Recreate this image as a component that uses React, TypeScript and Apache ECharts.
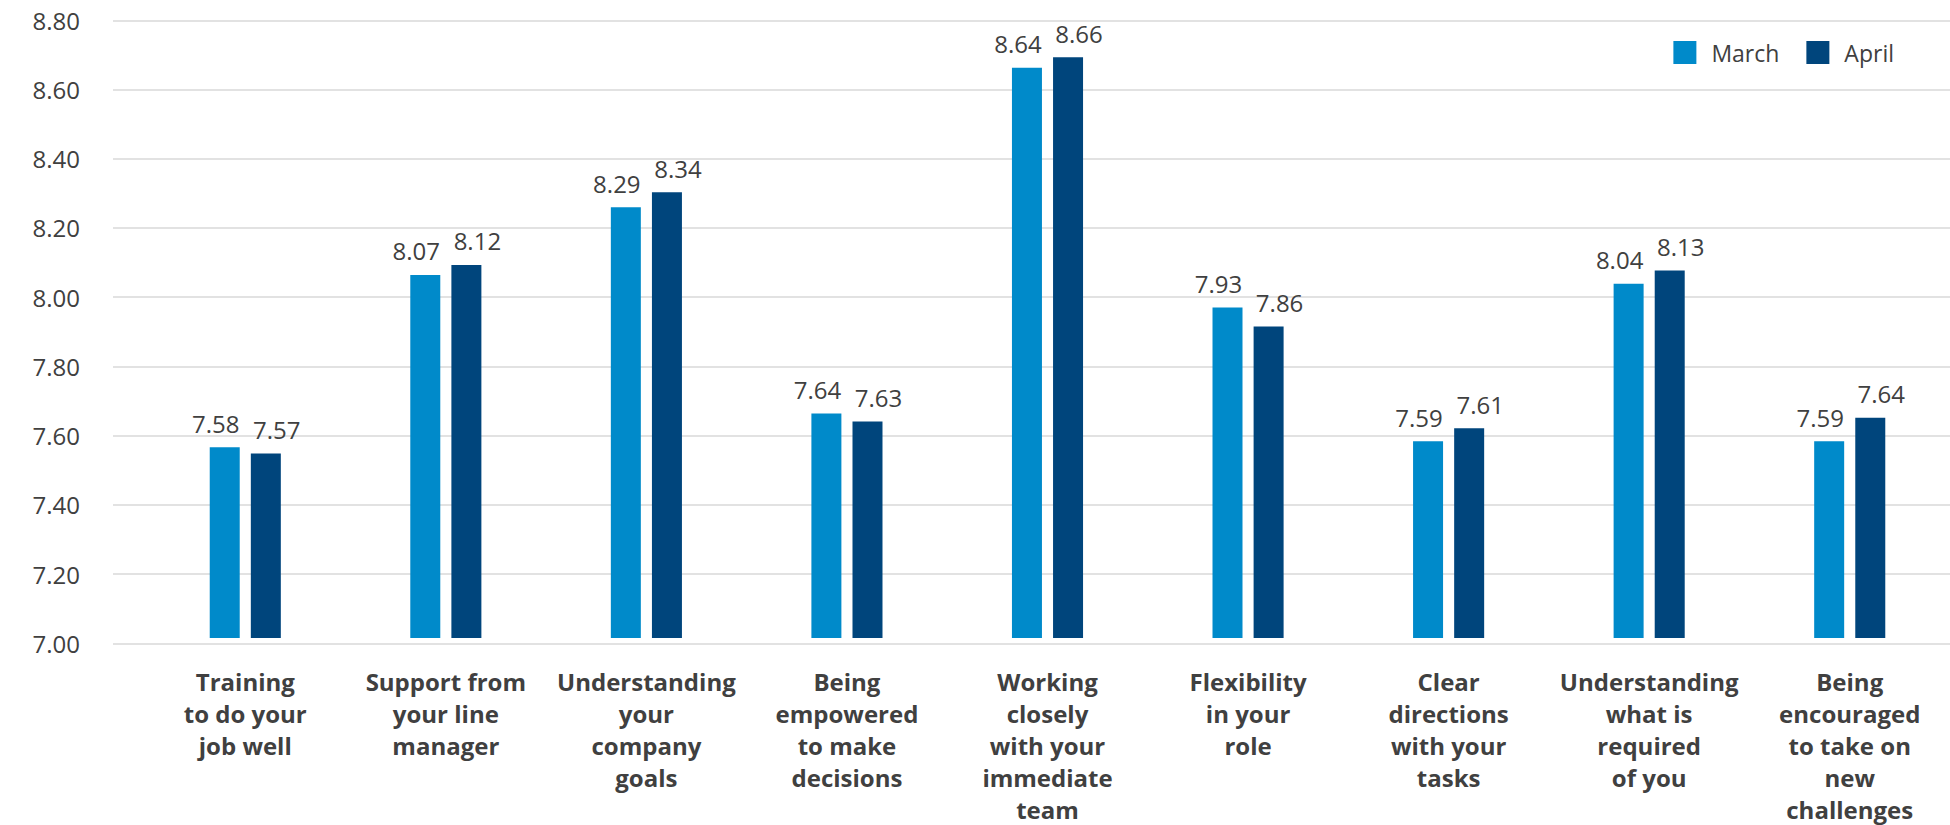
import React, { useEffect, useRef } from "react";
import * as echarts from "echarts";

const categories = [
  "Training\nto do your\njob well",
  "Support from\nyour line\nmanager",
  "Understanding\nyour\ncompany\ngoals",
  "Being\nempowered\nto make\ndecisions",
  "Working\nclosely\nwith your\nimmediate\nteam",
  "Flexibility\nin your\nrole",
  "Clear\ndirections\nwith your\ntasks",
  "Understanding\nwhat is\nrequired\nof you",
  "Being\nencouraged\nto take on\nnew\nchallenges",
];

const seriesNames = ["March", "April"];

// bar heights as drawn in the picture
const marchValues = [7.556, 8.058, 8.255, 7.654, 8.662, 7.963, 7.573, 8.032, 7.573];
const aprilValues = [7.538, 8.087, 8.299, 7.631, 8.692, 7.908, 7.611, 8.071, 7.642];

// data labels as printed in the picture
const marchLabels = ["7.58", "8.07", "8.29", "7.64", "8.64", "7.93", "7.59", "8.04", "7.59"];
const aprilLabels = ["7.57", "8.12", "8.34", "7.63", "8.66", "7.86", "7.61", "8.13", "7.64"];

const yMin = 7.0;
const yMax = 8.8;
const yStep = 0.2;

const FONT = "'Open Sans', 'Noto Sans', sans-serif";
const TEXT = "#404040";
const COLORS = ["#008ACA", "#00457C"];

export default function App() {
  const ref = useRef<HTMLDivElement>(null);

  useEffect(() => {
    if (!ref.current) return;
    const chart = echarts.init(ref.current, undefined, { renderer: "svg" });
    const gridTop = 20.3;
    const gridBottom = 825 - 643.3;
    chart.setOption({
      animation: false,
      backgroundColor: "#ffffff",
      textStyle: { fontFamily: FONT },
      color: COLORS,
      legend: {
        data: seriesNames,
        right: 51,
        top: 36,
        itemWidth: 23,
        itemHeight: 23,
        itemGap: 27,
        icon: "rect",
        textStyle: { fontFamily: FONT, fontSize: 23, color: TEXT, padding: [0, 0, 0, 10] },
      },
      grid: [
        { left: 145, right: -9, top: gridTop, bottom: gridBottom, containLabel: false },
        { left: 113, right: 0, top: gridTop, bottom: gridBottom, containLabel: false },
      ],
      xAxis: [
        {
          type: "category",
          gridIndex: 0,
          data: categories,
          axisLine: { show: false },
          axisTick: { show: false },
          axisLabel: {
            interval: 0,
            margin: 27,
            fontFamily: FONT,
            fontSize: 24,
            fontWeight: 700,
            lineHeight: 32,
            color: TEXT,
            align: "center",
          },
        },
        { type: "value", gridIndex: 1, min: 0, max: 1, show: false },
      ],
      yAxis: [
        {
          type: "value",
          gridIndex: 0,
          min: yMin,
          max: yMax,
          interval: yStep,
          axisLabel: { show: false },
          axisLine: { show: false },
          axisTick: { show: false },
          splitLine: { show: false },
        },
        {
          type: "value",
          gridIndex: 1,
          min: yMin,
          max: yMax,
          interval: yStep,
          axisLine: { show: false },
          axisTick: { show: false },
          axisLabel: {
            margin: 33,
            fontFamily: FONT,
            fontSize: 24,
            color: TEXT,
            formatter: (v: number) => v.toFixed(2),
          },
          splitLine: { show: true, lineStyle: { color: "#D9D9D9", width: 1.5 } },
        },
      ],
      series: [
        {
          name: seriesNames[0],
          type: "bar",
          xAxisIndex: 0,
          yAxisIndex: 0,
          data: marchValues,
          barWidth: 30,
          barGap: "37%",
          itemStyle: { color: COLORS[0] },
          label: {
            show: true,
            position: "top",
            distance: 12,
            offset: [-9, 0],
            fontFamily: FONT,
            fontSize: 24,
            color: TEXT,
            formatter: (p: any) => marchLabels[p.dataIndex],
          },
        },
        {
          name: seriesNames[1],
          type: "bar",
          xAxisIndex: 0,
          yAxisIndex: 0,
          data: aprilValues,
          barWidth: 30,
          barGap: "37%",
          itemStyle: { color: COLORS[1] },
          label: {
            show: true,
            position: "top",
            distance: 12,
            offset: [11, 0],
            fontFamily: FONT,
            fontSize: 24,
            color: TEXT,
            formatter: (p: any) => aprilLabels[p.dataIndex],
          },
        },
      ],
    });
    return () => chart.dispose();
  }, []);

  return (
    <div
      ref={ref}
      style={{ position: "fixed", left: 0, top: 0, width: 1950, height: 825, background: "#fff" }}
    />
  );
}
